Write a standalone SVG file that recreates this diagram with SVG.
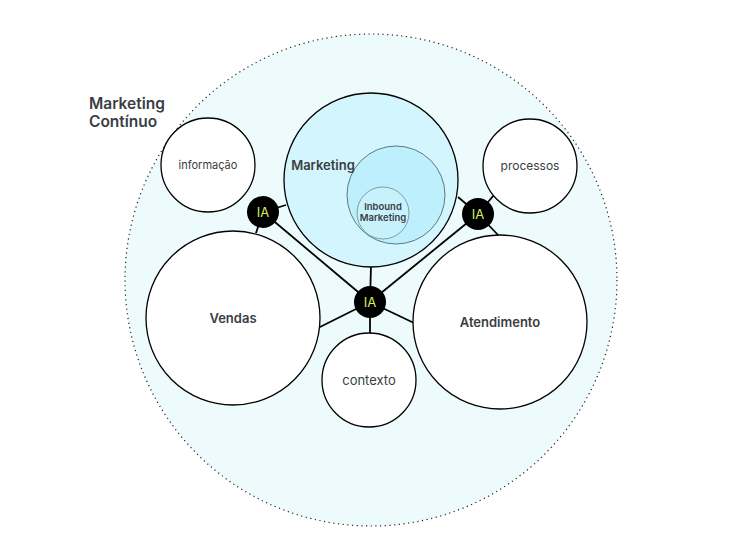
<svg xmlns="http://www.w3.org/2000/svg" width="756" height="540" viewBox="0 0 756 540">
<style>
.c{fill:#fff;stroke:#000;stroke-width:1.3}
.ia{fill:#000}
.iat{fill:#d8f05a;font:13px "Inter","Liberation Sans",sans-serif;text-anchor:middle}
.t{fill:#3a3d42;font-family:"Inter","Liberation Sans",sans-serif;text-anchor:middle}
.b{font-weight:600}
.l{text-anchor:start}
</style>
<rect width="756" height="540" fill="#fff"/>
<circle cx="371" cy="280" r="246" fill="#eefbfd" stroke="#222" stroke-width="1.2" stroke-dasharray="1.2 3.5"/>
<text class="t b l" x="89" y="109" font-size="15.5">Marketing</text>
<text class="t b l" x="89" y="127" font-size="15.5">Contínuo</text>
<g id="connectors" stroke="#000" stroke-width="1.8">
<line x1="263" y1="212" x2="250" y2="203"/>
<line x1="263" y1="212" x2="286" y2="205"/>
<line x1="263" y1="212" x2="256" y2="233"/>
<line x1="263" y1="212" x2="370" y2="302"/>
<line x1="478" y1="214" x2="458" y2="197"/>
<line x1="478" y1="214" x2="494" y2="195"/>
<line x1="478" y1="214" x2="499" y2="236"/>
<line x1="478" y1="214" x2="370" y2="302"/>
<line x1="370" y1="302" x2="371" y2="266"/>
<line x1="370" y1="302" x2="318" y2="328"/>
<line x1="370" y1="302" x2="414" y2="323"/>
<line x1="370" y1="302" x2="370" y2="334"/>
</g>
<g id="informacao"><circle class="c" cx="208" cy="165" r="47"/><text class="t" x="208" y="169" font-size="11">informação</text></g>
<g id="processos"><circle class="c" cx="530" cy="166" r="47"/><text class="t" x="530" y="170" font-size="12">processos</text></g>
<g id="vendas"><circle class="c" cx="233" cy="318" r="87"/><text class="t b" x="233" y="323" font-size="13">Vendas</text></g>
<g id="atendimento"><circle class="c" cx="500" cy="322" r="87"/><text class="t b" x="500" y="327" font-size="13">Atendimento</text></g>
<g id="contexto"><circle class="c" cx="369" cy="380" r="47"/><text class="t" x="369" y="385" font-size="13">contexto</text></g>
<g id="marketing">
<circle cx="371" cy="180" r="87" fill="#d3f5fd" stroke="#000" stroke-width="1.3"/>
<circle cx="396" cy="195" r="49" fill="#bdf0fc" stroke="#3c5a60" stroke-width="0.8"/>
<circle cx="383" cy="213" r="26" fill="#c8f2fb" stroke="#6a8a90" stroke-width="0.8"/>
<text class="t b" x="323" y="170" font-size="13">Marketing</text>
<text class="t b" x="383" y="210" font-size="9.5">Inbound</text>
<text class="t b" x="383" y="221" font-size="9.5">Marketing</text>
</g>
<g id="ia1"><circle class="ia" cx="263" cy="212" r="16"/><text class="iat" x="263" y="217">IA</text></g>
<g id="ia2"><circle class="ia" cx="478" cy="214" r="16"/><text class="iat" x="478" y="219">IA</text></g>
<g id="ia3"><circle class="ia" cx="370" cy="302" r="16"/><text class="iat" x="370" y="307">IA</text></g>
</svg>
